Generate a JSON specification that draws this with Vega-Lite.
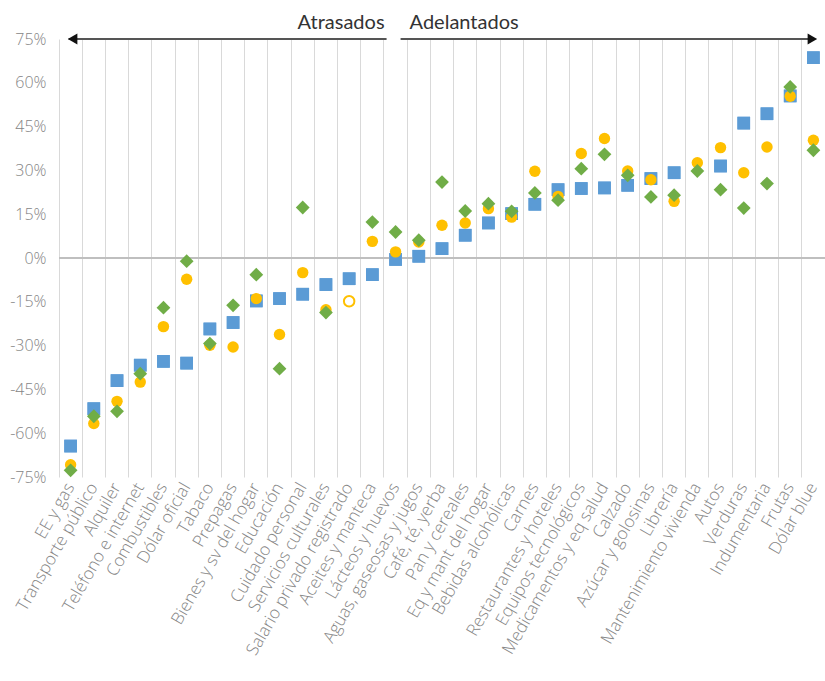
{
  "$schema": "https://vega.github.io/schema/vega-lite/v6.json",
  "autosize": {"type": "none"},
  "width": 766,
  "height": 438,
  "padding": {"left": 59, "top": 39, "right": 0, "bottom": 204},
  "background": "white",
  "config": {
    "view": {"stroke": null},
    "font": "Open Sans",
    "axis": {"labelFont": "Open Sans", "labelColor": "#858585", "labelFontWeight": 300}
  },
  "datasets": {
    "precios": [
      {"cat": "EE y gas", "azul": -64.4, "amarillo": -70.8, "verde": -72.7},
      {"cat": "Transporte público", "azul": -51.6, "amarillo": -56.7, "verde": -54.2},
      {"cat": "Alquiler", "azul": -42.0, "amarillo": -49.1, "verde": -52.5},
      {"cat": "Teléfono e internet", "azul": -36.7, "amarillo": -42.5, "verde": -39.6},
      {"cat": "Combustibles", "azul": -35.4, "amarillo": -23.5, "verde": -17.0},
      {"cat": "Dólar oficial", "azul": -36.0, "amarillo": -7.3, "verde": -1.1},
      {"cat": "Tabaco", "azul": -24.3, "amarillo": -29.9, "verde": -29.3},
      {"cat": "Prepagas", "azul": -22.1, "amarillo": -30.5, "verde": -16.2},
      {"cat": "Bienes y sv del hogar", "azul": -14.7, "amarillo": -13.9, "verde": -5.7},
      {"cat": "Educación", "azul": -13.9, "amarillo": -26.2, "verde": -37.9},
      {"cat": "Cuidado personal", "azul": -12.4, "amarillo": -5.0, "verde": 17.3},
      {"cat": "Servicios culturales", "azul": -9.1, "amarillo": -17.7, "verde": -18.7},
      {"cat": "Salario privado registrado", "azul": -7.1, "amarillo": null, "amarillo_estimado": -14.8, "verde": null},
      {"cat": "Aceites y manteca", "azul": -5.7, "amarillo": 5.7, "verde": 12.3},
      {"cat": "Lácteos y huevos", "azul": -0.5, "amarillo": 2.1, "verde": 8.9},
      {"cat": "Aguas, gaseosas y jugos", "azul": 0.6, "amarillo": 5.5, "verde": 6.1},
      {"cat": "Café, té, yerba", "azul": 3.2, "amarillo": 11.2, "verde": 26.0},
      {"cat": "Pan y cereales", "azul": 7.8, "amarillo": 12.0, "verde": 16.1},
      {"cat": "Eq y mant del hogar", "azul": 12.0, "amarillo": 16.9, "verde": 18.6},
      {"cat": "Bebidas alcohólicas", "azul": 15.2, "amarillo": 14.0, "verde": 16.0},
      {"cat": "Carnes", "azul": 18.4, "amarillo": 29.7, "verde": 22.3},
      {"cat": "Restaurantes y hoteles", "azul": 23.4, "amarillo": 21.1, "verde": 19.8},
      {"cat": "Equipos tecnológicos", "azul": 23.8, "amarillo": 35.8, "verde": 30.6},
      {"cat": "Medicamentos y eq salud", "azul": 24.0, "amarillo": 40.9, "verde": 35.5},
      {"cat": "Calzado", "azul": 24.9, "amarillo": 29.8, "verde": 28.3},
      {"cat": "Azúcar y golosinas", "azul": 27.2, "amarillo": 26.8, "verde": 20.9},
      {"cat": "Librería", "azul": 29.2, "amarillo": 19.4, "verde": 21.5},
      {"cat": "Mantenimiento vivienda", "azul": null, "amarillo": 32.6, "verde": 29.8},
      {"cat": "Autos", "azul": 31.5, "amarillo": 37.8, "verde": 23.4},
      {"cat": "Verduras", "azul": 46.2, "amarillo": 29.2, "verde": 17.1},
      {"cat": "Indumentaria", "azul": 49.4, "amarillo": 38.0, "verde": 25.5},
      {"cat": "Frutas", "azul": 55.5, "amarillo": 55.4, "verde": 58.6},
      {"cat": "Dólar blue", "azul": 68.6, "amarillo": 40.3, "verde": 36.9}
    ],
    "flechas": [
      {"texto": "Atrasados", "desde": "EE y gas", "hasta": "Lácteos y huevos"},
      {"texto": "Adelantados", "desde": "Lácteos y huevos", "hasta": "Dólar blue"}
    ]
  },
  "layer": [
    {
      "data": {"name": "precios"},
      "mark": {"type": "point", "shape": "square", "filled": true, "size": 160, "color": "#5B9BD5", "opacity": 1},
      "encoding": {
        "x": {
          "field": "cat", "type": "nominal", "title": null,
          "scale": {"type": "band", "paddingInner": 0, "paddingOuter": 0, "domain": ["EE y gas","Transporte público","Alquiler","Teléfono e internet","Combustibles","Dólar oficial","Tabaco","Prepagas","Bienes y sv del hogar","Educación","Cuidado personal","Servicios culturales","Salario privado registrado","Aceites y manteca","Lácteos y huevos","Aguas, gaseosas y jugos","Café, té, yerba","Pan y cereales","Eq y mant del hogar","Bebidas alcohólicas","Carnes","Restaurantes y hoteles","Equipos tecnológicos","Medicamentos y eq salud","Calzado","Azúcar y golosinas","Librería","Mantenimiento vivienda","Autos","Verduras","Indumentaria","Frutas","Dólar blue"]},
          "axis": {
            "grid": true, "gridColor": "#d9d9d9", "gridWidth": 1, "bandPosition": 0,
            "domain": false, "ticks": false,
            "labelAngle": -60, "labelAlign": "right", "labelBaseline": "middle",
            "labelFontSize": 17, "labelPadding": 7, "labelLimit": 300,
            "labelOverlap": false, "labelBound": false, "labelFlush": false
          }
        },
        "y": {
          "field": "azul", "type": "quantitative", "title": null,
          "scale": {"domain": [-75, 75], "nice": false, "zero": false},
          "axis": {
            "values": [-75, -60, -45, -30, -15, 0, 15, 30, 45, 60, 75],
            "labelExpr": "datum.value + '%'",
            "grid": false, "domain": false, "ticks": false,
            "labelFontSize": 16, "labelPadding": 13
          }
        }
      }
    },
    {
      "data": {"name": "precios"},
      "mark": {"type": "rule", "color": "#bfbfbf", "strokeWidth": 2},
      "encoding": {"y": {"datum": 0}}
    },
    {
      "data": {"name": "precios"},
      "mark": {"type": "point", "shape": "square", "filled": true, "size": 160, "color": "#5B9BD5", "opacity": 1},
      "encoding": {
        "x": {"field": "cat", "type": "nominal", "title": null},
        "y": {"field": "azul", "type": "quantitative", "title": null}
      }
    },
    {
      "data": {"name": "precios"},
      "mark": {"type": "point", "shape": "circle", "filled": true, "size": 130, "color": "#FFC000", "opacity": 1},
      "encoding": {
        "x": {"field": "cat", "type": "nominal", "title": null},
        "y": {"field": "amarillo", "type": "quantitative", "title": null}
      }
    },
    {
      "data": {"name": "precios"},
      "mark": {"type": "point", "shape": "circle", "filled": false, "size": 110, "color": "#FFC000", "strokeWidth": 2, "opacity": 1},
      "encoding": {
        "x": {"field": "cat", "type": "nominal", "title": null},
        "y": {"field": "amarillo_estimado", "type": "quantitative", "title": null}
      }
    },
    {
      "data": {"name": "precios"},
      "mark": {"type": "point", "shape": "diamond", "filled": true, "size": 190, "color": "#70AD47", "opacity": 1},
      "encoding": {
        "x": {"field": "cat", "type": "nominal", "title": null},
        "y": {"field": "verde", "type": "quantitative", "title": null}
      }
    },
    {
      "data": {"name": "flechas"},
      "transform": [{"filter": "datum.texto === 'Atrasados'"}],
      "mark": {"type": "rule", "color": "#555555", "strokeWidth": 2, "xOffset": -2, "x2Offset": -9},
      "encoding": {
        "x": {"field": "desde", "type": "nominal", "title": null},
        "x2": {"field": "hasta"},
        "y": {"datum": 75}
      }
    },
    {
      "data": {"name": "flechas"},
      "transform": [{"filter": "datum.texto === 'Adelantados'"}],
      "mark": {"type": "rule", "color": "#555555", "strokeWidth": 2, "xOffset": 5, "x2Offset": -4},
      "encoding": {
        "x": {"field": "desde", "type": "nominal", "title": null},
        "x2": {"field": "hasta"},
        "y": {"datum": 75}
      }
    },
    {
      "data": {"name": "flechas"},
      "transform": [{"filter": "datum.texto === 'Atrasados'"}],
      "mark": {"type": "point", "shape": "triangle-left", "filled": true, "size": 120, "color": "#111111", "opacity": 1, "xOffset": 2},
      "encoding": {
        "x": {"field": "desde", "type": "nominal", "title": null},
        "y": {"datum": 75}
      }
    },
    {
      "data": {"name": "flechas"},
      "transform": [{"filter": "datum.texto === 'Adelantados'"}],
      "mark": {"type": "point", "shape": "triangle-right", "filled": true, "size": 120, "color": "#111111", "opacity": 1, "xOffset": -1},
      "encoding": {
        "x": {"field": "hasta", "type": "nominal", "title": null},
        "y": {"datum": 75}
      }
    },
    {
      "data": {"name": "flechas"},
      "transform": [{"filter": "datum.texto === 'Atrasados'"}],
      "mark": {"type": "text", "align": "right", "baseline": "middle", "fontSize": 20, "color": "#333333", "font": "Lato", "dx": -11},
      "encoding": {
        "x": {"field": "hasta", "type": "nominal", "title": null},
        "y": {"datum": 80.4},
        "text": {"field": "texto"}
      }
    },
    {
      "data": {"name": "flechas"},
      "transform": [{"filter": "datum.texto === 'Adelantados'"}],
      "mark": {"type": "text", "align": "left", "baseline": "middle", "fontSize": 20, "color": "#333333", "font": "Lato", "dx": 14},
      "encoding": {
        "x": {"field": "desde", "type": "nominal", "title": null},
        "y": {"datum": 80.4},
        "text": {"field": "texto"}
      }
    }
  ]
}
